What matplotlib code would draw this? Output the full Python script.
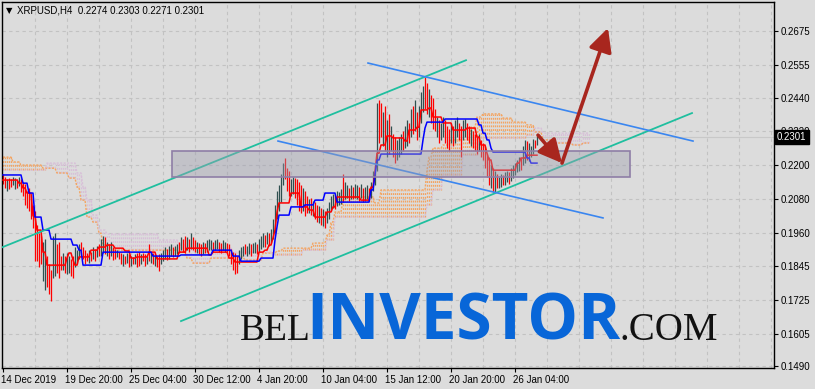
import numpy as np
import matplotlib.pyplot as plt
from matplotlib.patches import Rectangle
import matplotlib.transforms as mtransforms

# XRPUSD H4 bars, first bar 14 Dec 2019
high = [
    0.2170, 0.2160, 0.2150, 0.2155, 0.2150, 0.2160, 0.2155, 0.2150, 0.2158, 0.2150,
    0.2140, 0.2135, 0.2110, 0.2120, 0.2090, 0.2060, 0.2040, 0.1990, 0.1960, 0.1950,
    0.1930, 0.1940, 0.1880, 0.1850, 0.1830, 0.1950, 0.1960, 0.1920, 0.1930, 0.1880,
    0.1890, 0.1880, 0.1890, 0.1880, 0.1870, 0.1880, 0.1910, 0.1900, 0.1920, 0.1930,
    0.1910, 0.1900, 0.1890, 0.1900, 0.1895, 0.1910, 0.1905, 0.1915, 0.1920, 0.1940,
    0.1950, 0.1945, 0.1930, 0.1920, 0.1930, 0.1910, 0.1905, 0.1900, 0.1895, 0.1890,
    0.1885, 0.1880, 0.1890, 0.1885, 0.1880, 0.1875, 0.1885, 0.1890, 0.1895, 0.1885,
    0.1890, 0.1885, 0.1880, 0.1920, 0.1895, 0.1890, 0.1885, 0.1880, 0.1885, 0.1890,
    0.1900, 0.1910, 0.1905, 0.1915, 0.1920, 0.1910, 0.1915, 0.1920, 0.1930, 0.1945,
    0.1940, 0.1950, 0.1945, 0.1940, 0.1960, 0.1945, 0.1935, 0.1930, 0.1925, 0.1920,
    0.1930, 0.1925, 0.1935, 0.1940, 0.1935, 0.1930, 0.1935, 0.1940, 0.1930, 0.1925,
    0.1935, 0.1930, 0.1925, 0.1920, 0.1905, 0.1895, 0.1890, 0.1880, 0.1900, 0.1910,
    0.1915, 0.1920, 0.1915, 0.1925, 0.1920, 0.1925, 0.1930, 0.1920, 0.1940, 0.1950,
    0.1960, 0.1955, 0.1965, 0.1960, 0.1975, 0.2010, 0.2060, 0.2110, 0.2130, 0.2170,
    0.2210, 0.2225, 0.2190, 0.2180, 0.2150, 0.2160, 0.2155, 0.2150, 0.2140, 0.2130,
    0.2120, 0.2110, 0.2090, 0.2080, 0.2085, 0.2075, 0.2070, 0.2060, 0.2055, 0.2050,
    0.2045, 0.2040, 0.2050, 0.2070, 0.2090, 0.2100, 0.2095, 0.2110, 0.2105, 0.2115,
    0.2170, 0.2140, 0.2130, 0.2120, 0.2130, 0.2125, 0.2135, 0.2130, 0.2125, 0.2135,
    0.2120, 0.2125, 0.2130, 0.2120, 0.2140, 0.2180, 0.2200, 0.2420, 0.2430, 0.2420,
    0.2390, 0.2410, 0.2360, 0.2380, 0.2340, 0.2310, 0.2300, 0.2290, 0.2300, 0.2310,
    0.2320, 0.2340, 0.2360, 0.2350, 0.2400, 0.2410, 0.2430, 0.2390, 0.2410, 0.2460,
    0.2480, 0.2512, 0.2490, 0.2470, 0.2450, 0.2440, 0.2400, 0.2370, 0.2360, 0.2350,
    0.2370, 0.2360, 0.2340, 0.2330, 0.2350, 0.2340, 0.2360, 0.2370, 0.2350, 0.2340,
    0.2360, 0.2365, 0.2350, 0.2340, 0.2330, 0.2320, 0.2310, 0.2300, 0.2310, 0.2290,
    0.2280, 0.2270, 0.2240, 0.2230, 0.2200, 0.2190, 0.2180, 0.2170, 0.2160, 0.2170,
    0.2165, 0.2175, 0.2180, 0.2175, 0.2190, 0.2200, 0.2210, 0.2220, 0.2230, 0.2225,
    0.2270, 0.2290, 0.2285, 0.2280, 0.2270, 0.2295, 0.2290, 0.2303]
low = [
    0.2135, 0.2120, 0.2110, 0.2115, 0.2125, 0.2130, 0.2115, 0.2120, 0.2128, 0.2105,
    0.2090, 0.2060, 0.2050, 0.2040, 0.2010, 0.1980, 0.1860, 0.1860, 0.1840, 0.1850,
    0.1790, 0.1760, 0.1770, 0.1745, 0.1720, 0.1800, 0.1810, 0.1820, 0.1800, 0.1830,
    0.1830, 0.1820, 0.1815, 0.1820, 0.1810, 0.1800, 0.1840, 0.1850, 0.1870, 0.1880,
    0.1870, 0.1850, 0.1860, 0.1855, 0.1860, 0.1870, 0.1860, 0.1875, 0.1880, 0.1880,
    0.1890, 0.1885, 0.1880, 0.1870, 0.1880, 0.1865, 0.1870, 0.1875, 0.1870, 0.1850,
    0.1845, 0.1850, 0.1855, 0.1840, 0.1845, 0.1850, 0.1850, 0.1840, 0.1845, 0.1850,
    0.1860, 0.1845, 0.1850, 0.1860, 0.1855, 0.1850, 0.1845, 0.1840, 0.1825, 0.1850,
    0.1860, 0.1870, 0.1865, 0.1870, 0.1880, 0.1875, 0.1880, 0.1885, 0.1890, 0.1900,
    0.1895, 0.1890, 0.1900, 0.1895, 0.1905, 0.1900, 0.1895, 0.1890, 0.1885, 0.1880,
    0.1885, 0.1890, 0.1895, 0.1900, 0.1900, 0.1895, 0.1900, 0.1905, 0.1895, 0.1890,
    0.1900, 0.1895, 0.1890, 0.1880, 0.1850, 0.1830, 0.1815, 0.1820, 0.1850, 0.1870,
    0.1880, 0.1885, 0.1880, 0.1885, 0.1880, 0.1890, 0.1890, 0.1885, 0.1895, 0.1905,
    0.1910, 0.1910, 0.1920, 0.1915, 0.1925, 0.1940, 0.1960, 0.2010, 0.2040, 0.2070,
    0.2130, 0.2150, 0.2110, 0.2090, 0.2090, 0.2100, 0.2085, 0.2060, 0.2040, 0.2030,
    0.2040, 0.2020, 0.2030, 0.2030, 0.2025, 0.2020, 0.2010, 0.2000, 0.1995, 0.1990,
    0.1985, 0.1980, 0.1995, 0.2010, 0.2040, 0.2050, 0.2045, 0.2055, 0.2060, 0.2065,
    0.2070, 0.2080, 0.2085, 0.2075, 0.2080, 0.2080, 0.2085, 0.2080, 0.2075, 0.2085,
    0.2070, 0.2075, 0.2080, 0.2075, 0.2085, 0.2110, 0.2130, 0.2180, 0.2280, 0.2300,
    0.2270, 0.2250, 0.2230, 0.2240, 0.2250, 0.2230, 0.2210, 0.2220, 0.2230, 0.2240,
    0.2250, 0.2260, 0.2270, 0.2280, 0.2300, 0.2310, 0.2320, 0.2290, 0.2300, 0.2350,
    0.2390, 0.2400, 0.2380, 0.2370, 0.2350, 0.2330, 0.2320, 0.2300, 0.2280, 0.2290,
    0.2300, 0.2280, 0.2260, 0.2250, 0.2280, 0.2270, 0.2280, 0.2300, 0.2290, 0.2230,
    0.2290, 0.2300, 0.2290, 0.2280, 0.2270, 0.2260, 0.2250, 0.2240, 0.2250, 0.2230,
    0.2220, 0.2190, 0.2160, 0.2130, 0.2120, 0.2105, 0.2105, 0.2120, 0.2120, 0.2125,
    0.2130, 0.2130, 0.2140, 0.2135, 0.2145, 0.2155, 0.2165, 0.2175, 0.2180, 0.2185,
    0.2200, 0.2210, 0.2220, 0.2215, 0.2230, 0.2240, 0.2260, 0.2271]
# u = bull bar, d = bear bar
direction = ("ddudduudud" "dddddddddd" "uuddduuddd" "uduudduuud" "dddudududu"
             "udududdudd" "ududududdu" "ddudududdu" "uuduuduudu" "ddududdudd"
             "uduuuduudd" "uudddddduu" "uduuduuduu" "ududuuuuuu" "uddduudddd"
             "uddududdud" "uduuuuduuu" "duududuudu" "duuduuuudd" "udududduuu"
             "duudududuu" "uddudddudu" "uddduduudd" "uuddudddud" "ddddududuu"
             "duuduuuuud" "uuduuudu")
last_ohlc = [0.2274, 0.2303, 0.2271, 0.2301]

# ichimoku lines, as (bar where the level starts, level)
tenkan_at = [0, 8, 10, 12, 15, 17, 20, 22, 32, 33, 35, 36, 38, 44, 48, 52, 56, 61, 64, 67,
             73, 77, 88, 92, 103, 105, 113, 116, 128, 131, 133, 135, 136, 137, 138, 144,
             149, 153, 156, 162, 165, 167, 179, 184, 186, 187, 189, 192, 195, 201, 203,
             207, 209, 213, 215, 220, 225, 232, 237, 239, 242, 243, 245, 257, 259, 262]
tenkan_val = [0.2148, 0.2137, 0.2120, 0.2102, 0.2021, 0.1971, 0.1893, 0.1847, 0.1872, 0.1890,
              0.1865, 0.1847, 0.1876, 0.1900, 0.1911, 0.1918, 0.1907, 0.1897, 0.1872, 0.1876,
              0.1893, 0.1869, 0.1893, 0.1907, 0.1883, 0.1893, 0.1872, 0.1858, 0.1893, 0.1900,
              0.1918, 0.1943, 0.1971, 0.2035, 0.2067, 0.2102, 0.2053, 0.2042, 0.2017, 0.2035,
              0.2053, 0.2088, 0.2077, 0.2123, 0.2176, 0.2243, 0.2272, 0.2304, 0.2297, 0.2286,
              0.2325, 0.2335, 0.2396, 0.2403, 0.2371, 0.2350, 0.2325, 0.2332, 0.2300, 0.2272,
              0.2243, 0.2219, 0.2183, 0.2208, 0.2226, 0.2236]
kijun_at = [0, 10, 13, 16, 20, 24, 35, 38, 40, 50, 75, 89, 105, 115, 119, 129, 136, 137, 138,
            144, 151, 156, 161, 167, 184, 186, 187, 189, 210, 211, 212, 221, 238, 240, 242,
            244, 245, 262, 264]
kijun_val = [0.2166, 0.2137, 0.2102, 0.2017, 0.1971, 0.1939, 0.1918, 0.1900, 0.1847, 0.1893,
             0.1879, 0.1883, 0.1900, 0.1879, 0.1861, 0.1872, 0.1936, 0.1982, 0.2024, 0.2053,
             0.2060, 0.2077, 0.2102, 0.2070, 0.2113, 0.2166, 0.2219, 0.2240, 0.2290, 0.2332,
             0.2353, 0.2364, 0.2343, 0.2314, 0.2290, 0.2261, 0.2247, 0.2226, 0.2208]
spanA_at = [0, 5, 9, 20, 27, 33, 37, 39, 42, 45, 48, 50, 54, 88, 92, 95, 104, 115, 121, 130,
            137, 140, 155, 162, 164, 166, 170, 172, 186, 189, 212, 213, 215, 220, 224, 234,
            237, 240, 250, 255, 262, 266, 270, 275, 285, 290]
spanA_val = [0.2229, 0.2212, 0.2201, 0.2190, 0.2173, 0.2155, 0.2123, 0.2077, 0.2017, 0.1999,
             0.1960, 0.1918, 0.1900, 0.1893, 0.1872, 0.1854, 0.1872, 0.1876, 0.1865, 0.1890,
             0.1897, 0.1907, 0.1925, 0.1953, 0.1999, 0.2035, 0.2077, 0.2088, 0.2067, 0.2113,
             0.2183, 0.2229, 0.2261, 0.2272, 0.2290, 0.2335, 0.2371, 0.2382, 0.2367, 0.2353,
             0.2343, 0.2318, 0.2290, 0.2279, 0.2272, 0.2279]
spanB_at = [0, 22, 37, 40, 42, 45, 48, 52, 78, 88, 92, 115, 135, 150, 162, 166, 212, 215, 220,
            230, 238, 262, 266, 270]
spanB_val = [0.2183, 0.2208, 0.2173, 0.2123, 0.2077, 0.2024, 0.1971, 0.1957, 0.1936, 0.1918,
             0.1907, 0.1893, 0.1883, 0.1900, 0.1936, 0.2017, 0.2060, 0.2113, 0.2166, 0.2236,
             0.2297, 0.2307, 0.2332, 0.2314]
cloud_shift = 26

# drawn objects: (bar, price) anchors
up_channel = [[(-1.5, 0.1907), (231.5, 0.2572)], [(89.0, 0.1649), (344.5, 0.2385)]]
down_channel = [[(182.5, 0.2562), (345.0, 0.2286)], [(137.5, 0.2286), (300.0, 0.2014)]]
zone = [(84.5, 0.2159), (313.5, 0.2251)]
arrows = [[(267.5, 0.2307), (279.5, 0.2208)], [(279.5, 0.2208), (302.5, 0.2686)]]

price_ticks = [0.1490, 0.1605, 0.1725, 0.1845, 0.1960, 0.2080, 0.2200, 0.2320, 0.2440, 0.2555, 0.2675]
time_labels = ['14 Dec 2019', '19 Dec 20:00', '25 Dec 04:00', '30 Dec 12:00', '4 Jan 20:00',
               '10 Jan 04:00', '15 Jan 12:00', '20 Jan 20:00', '26 Jan 04:00']


def levels(at, val, n):
    # value of a stepped line on every bar
    idx = np.searchsorted(at, np.arange(n), side='right') - 1
    return np.array(val)[idx]


bg = '#dcdcdc'
fig = plt.figure(figsize=(8.15, 3.89), dpi=100, facecolor=bg)
ax = fig.add_axes([2 / 815, 21 / 389, 772 / 815, 366 / 389], facecolor=bg)

n = len(high)
bars = np.arange(n)
ncloud = n + cloud_shift

# grid
for t in price_ticks:
    ax.axhline(t, color='#c2c2c2', lw=0.8, dashes=(3, 3), zorder=0)
for g in range(16, 400, 16):
    ax.axvline(g, color='#c2c2c2', lw=0.8, dashes=(3, 3), zorder=0)

# cloud
a = levels(spanA_at, spanA_val, ncloud)
b = levels(spanB_at, spanB_val, ncloud)
cb = np.arange(ncloud)
up = a >= b
ax.vlines(cb[up], b[up], a[up], color='#f4a460', lw=0.9, linestyles=(0, (1.5, 1.5)), zorder=1)
ax.vlines(cb[~up], a[~up], b[~up], color='#d8bfd8', lw=0.9, linestyles=(0, (1.5, 1.5)), zorder=1)
ax.plot(cb, a, color='#f4a460', lw=1.0, ls=(0, (1.5, 1)), zorder=1)
ax.plot(cb, b, color='#d8bfd8', lw=1.0, ls=(0, (1.5, 1)), zorder=1)

# bars
cols = ['#2f4f4f' if c == 'u' else '#ff0000' for c in direction]
ax.vlines(bars, low, high, colors=cols, lw=0.9, zorder=2)

# tenkan / kijun
ax.plot(bars, levels(tenkan_at, tenkan_val, n), color='#ff0000', lw=1.1, zorder=3)
ax.plot(bars, levels(kijun_at, kijun_val, n), color='#0000ff', lw=1.1, zorder=3)

# bid line
ax.axhline(last_ohlc[3], color='#c8c8c8', lw=0.8, zorder=0.5)

# channels
for (x0, y0), (x1, y1) in up_channel:
    ax.plot([x0, x1], [y0, y1], color='#1fbf9f', lw=1.3, zorder=4)
for (x0, y0), (x1, y1) in down_channel:
    ax.plot([x0, x1], [y0, y1], color='#3a86f0', lw=1.2, zorder=4)

# support zone
(zx0, zy0), (zx1, zy1) = zone
ax.add_patch(Rectangle((zx0, zy0), zx1 - zx0, zy1 - zy0, facecolor='#9e9eae', alpha=0.42,
                       edgecolor='none', zorder=5))
ax.add_patch(Rectangle((zx0, zy0), zx1 - zx0, zy1 - zy0, fill=False, edgecolor='#8e7ea6',
                       lw=1.2, zorder=5))

# arrows
for (x0, y0), (x1, y1) in arrows:
    ax.annotate('', xy=(x1, y1), xytext=(x0, y0),
                arrowprops=dict(arrowstyle='-|>,head_length=1.0,head_width=0.5',
                                color='#a8261e', lw=2.6, shrinkA=0, shrinkB=0,
                                mutation_scale=14),
                zorder=6)

ax.set_xlim(-0.5, 385.5)
ax.set_ylim(0.1483, 0.2778)

# axes look
for s in ax.spines.values():
    s.set_color('black')
    s.set_linewidth(1.0)
ax.yaxis.tick_right()
ax.set_yticks(price_ticks)
ax.set_yticklabels(['%.4f' % t for t in price_ticks])
ax.set_xticks(np.arange(len(time_labels)) * 32)
ax.set_xticklabels(time_labels, ha='left')
ax.tick_params(axis='both', colors='black', labelsize=7, length=3, width=0.8, pad=2)
for lab in ax.get_xticklabels() + ax.get_yticklabels():
    lab.set_family('Liberation Sans')
offset = mtransforms.ScaledTranslation(-2 / 100, 0, fig.dpi_scale_trans)
for lab in ax.get_xticklabels():
    lab.set_transform(lab.get_transform() + offset)

# current price tag (covers the 0.2320 label, as in the terminal)
ax.text(1.004, last_ohlc[3], '%.4f' % last_ohlc[3], transform=ax.get_yaxis_transform(),
        ha='left', va='center', color='white', fontsize=7, family='Liberation Sans',
        bbox=dict(boxstyle='square,pad=0.2', facecolor='black', edgecolor='black'),
        clip_on=False, zorder=10)

# header
ax.text(0.005, 0.99, '\u25bc', transform=ax.transAxes, ha='left', va='top', fontsize=6,
        family='DejaVu Sans', color='black')
ax.text(0.02, 0.99, 'XRPUSD,H4  ' + ' '.join('%.4f' % v for v in last_ohlc),
        transform=ax.transAxes, ha='left', va='top', fontsize=7, family='Liberation Sans',
        color='black')

# watermark
fig.text(240 / 815, 49 / 389, 'BEL', family='Liberation Serif', fontsize=27, color='#111111',
         va='baseline', ha='left')
fig.text(306 / 815, 49 / 389, 'INVESTOR', family='Open Sans', weight='bold', fontsize=46,
         color='#0866d8', va='baseline', ha='left')
fig.text(619 / 815, 49 / 389, '.COM', family='Liberation Serif', fontsize=28, color='#111111',
         va='baseline', ha='left')

plt.savefig('out.png', dpi=100, facecolor=bg)
